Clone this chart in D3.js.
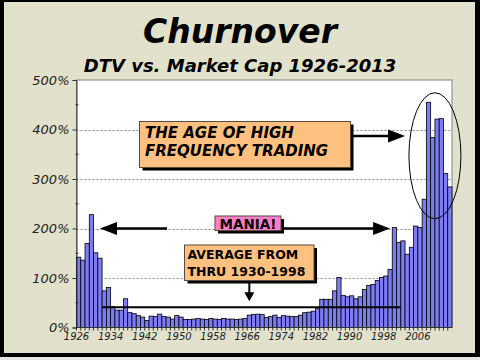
<!DOCTYPE html>
<html>
<head>
<meta charset="utf-8">
<script src="https://cdn.jsdelivr.net/npm/d3@7"></script>
<style>
  body { margin: 0; background: #fff; }
  svg { display: block; }
</style>
</head>
<body>
<div id="chart"></div>
<script>
// Churnover: dollar trading volume as a % of market cap, 1926-2013
var years = d3.range(1926, 2014);
var churn = [
  142, 136, 170, 228, 151, 140, 74, 81, 42, 35,   // 1926-1935
  35, 58, 30, 28, 24, 21, 14, 23, 22, 27,         // 1936-1945
  22, 21, 17, 24, 21, 16, 16, 17, 18, 17,         // 1946-1955
  16, 18, 17, 16, 18, 17, 17, 16, 17, 18,         // 1956-1965
  25, 26, 27, 26, 20, 22, 25, 20, 24, 23,         // 1966-1975
  22, 22, 25, 30, 31, 33, 38, 57, 57, 57,         // 1976-1985
  74, 101, 65, 62, 64, 58, 62, 77, 85, 87,        // 1986-1995
  95, 101, 104, 117, 202, 172, 175, 148, 162, 205,// 1996-2005
  202, 259, 455, 384, 421, 422, 311, 284          // 2006-2013
];
var tickYears = [1926, 1934, 1942, 1950, 1958, 1966, 1974, 1982, 1990, 1998, 2006];
var yTicks = [0, 100, 200, 300, 400, 500];
var avgValue = 41;
var hftLines = ["THE AGE OF HIGH", "FREQUENCY TRADING"];
var avgLines = ["AVERAGE FROM", "THRU 1930-1998"];

var W = 480, H = 360;
// plot area edges (note: "top" is taken by window.top)
var plotL = 76.5, plotR = 452, plotT = 80, plotB = 327.5;

var svg = d3.select("#chart").append("svg")
    .attr("width", W)
    .attr("height", H);

// dotted beige background
var defs = svg.append("defs");
var pat = defs.append("pattern")
    .attr("id", "dots")
    .attr("width", 4).attr("height", 4)
    .attr("patternUnits", "userSpaceOnUse");
pat.append("rect").attr("width", 4).attr("height", 4).attr("fill", "#e1e1cb");
pat.append("rect").attr("x", 1).attr("y", 1).attr("width", 1).attr("height", 1)
    .attr("fill", "#ececdc");

svg.append("rect").attr("width", W).attr("height", H).attr("fill", "#e4e4e4");
svg.append("rect").attr("width", W).attr("height", 357).attr("fill", "#000");
svg.append("rect").attr("x", 4).attr("y", 2).attr("width", 471).attr("height", 351)
    .attr("fill", "url(#dots)");

// titles
svg.append("text")
    .attr("x", 240).attr("y", 43)
    .attr("text-anchor", "middle")
    .style("font-family", "DejaVu Sans")
    .style("font-weight", "bold")
    .style("font-style", "italic")
    .style("font-size", "33px")
    .text("Churnover");

svg.append("text")
    .attr("x", 240).attr("y", 71.5)
    .attr("text-anchor", "middle")
    .style("font-family", "DejaVu Sans")
    .style("font-weight", "bold")
    .style("font-style", "italic")
    .style("font-size", "18px")
    .text("DTV vs. Market Cap 1926-2013");

// scales
var x = d3.scaleBand()
    .domain(years)
    .range([plotL, plotR])
    .padding(0);

var y = d3.scaleLinear()
    .domain([0, 500])
    .range([plotB, plotT]);

// plot area
svg.append("rect")
    .attr("x", plotL).attr("y", plotT)
    .attr("width", plotR - plotL).attr("height", plotB - plotT)
    .attr("fill", "#fff")
    .attr("stroke", "#808080")
    .attr("stroke-width", 1);

// gridlines
svg.append("g").selectAll("line")
    .data([100, 200, 300, 400])
    .enter().append("line")
    .attr("x1", plotL).attr("x2", plotR)
    .attr("y1", function(d) { return Math.round(y(d)) + 0.5; })
    .attr("y2", function(d) { return Math.round(y(d)) + 0.5; })
    .attr("stroke", "#888")
    .attr("stroke-dasharray", "2,2");

// bars
svg.append("g").selectAll("rect")
    .data(churn)
    .enter().append("rect")
    .attr("x", function(d, i) { return x(years[i]); })
    .attr("y", function(d) { return y(d); })
    .attr("width", x.bandwidth())
    .attr("height", function(d) { return y(0) - y(d); })
    .attr("fill", "#7c7cf4")
    .attr("stroke", "#000")
    .attr("stroke-width", 0.8);

// y axis
var yAxis = d3.axisLeft(y)
    .tickValues(yTicks)
    .tickSize(4)
    .tickFormat(function(d) { return d + "%"; });

var gy = svg.append("g")
    .attr("transform", "translate(" + plotL + ",0)")
    .call(yAxis);
gy.select(".domain").attr("stroke", "#333");
gy.selectAll(".tick line").attr("stroke", "#333");
gy.selectAll(".tick text")
    .attr("x", -7)
    .attr("fill", "#222")
    .style("font-family", "DejaVu Sans")
    .style("font-style", "italic")
    .style("font-size", "13px");

// minor y ticks
svg.append("g").selectAll("line")
    .data([50, 150, 250, 350, 450])
    .enter().append("line")
    .attr("x1", plotL - 1).attr("x2", plotL + 2)
    .attr("y1", function(d) { return y(d); })
    .attr("y2", function(d) { return y(d); })
    .attr("stroke", "#333");

// x axis: ticks at category boundaries, labels every 8 years
svg.append("line")
    .attr("x1", plotL).attr("x2", plotR)
    .attr("y1", plotB).attr("y2", plotB)
    .attr("stroke", "#333");

svg.append("g").selectAll("line")
    .data(years)
    .enter().append("line")
    .attr("x1", function(d) { return x(d); })
    .attr("x2", function(d) { return x(d); })
    .attr("y1", plotB).attr("y2", plotB + 3)
    .attr("stroke", "#333");

svg.append("g").selectAll("text")
    .data(tickYears)
    .enter().append("text")
    .attr("x", function(d) { return x(d); })
    .attr("y", 339.5)
    .attr("text-anchor", "middle")
    .attr("fill", "#222")
    .style("font-family", "DejaVu Sans")
    .style("font-style", "italic")
    .style("font-size", "10px")
    .text(function(d) { return d; });

// arrows helper
function arrowHead(g, tipX, tipY, dir, len, half) {
  var pts;
  if (dir === "right") pts = [[tipX, tipY], [tipX - len, tipY - half], [tipX - len, tipY + half]];
  if (dir === "left") pts = [[tipX, tipY], [tipX + len, tipY - half], [tipX + len, tipY + half]];
  if (dir === "down") pts = [[tipX, tipY], [tipX - half, tipY - len], [tipX + half, tipY - len]];
  g.append("polygon")
    .attr("points", pts.map(function(p) { return p.join(","); }).join(" "))
    .attr("fill", "#000");
}

function box(g, bx, by, bw, bh, fill) {
  g.append("rect")
    .attr("x", bx + 3).attr("y", by + 3)
    .attr("width", bw).attr("height", bh)
    .attr("fill", "#000");
  g.append("rect")
    .attr("x", bx).attr("y", by)
    .attr("width", bw).attr("height", bh)
    .attr("fill", fill)
    .attr("stroke", "#5a4a3a")
    .attr("stroke-width", 1);
}

var ann = svg.append("g");

// average line
ann.append("line")
    .attr("x1", x(1932)).attr("x2", x(2002))
    .attr("y1", y(avgValue)).attr("y2", y(avgValue))
    .attr("stroke", "#000")
    .attr("stroke-width", 2);

// mania arrow (double headed on the 200% line)
var maniaY = y(200);
var mLeft = x(1931) + x.bandwidth() / 2;
var mRight = x(1999) + x.bandwidth() / 2;
ann.append("line")
    .attr("x1", mLeft + 10).attr("x2", 167)
    .attr("y1", maniaY).attr("y2", maniaY)
    .attr("stroke", "#000").attr("stroke-width", 2.5);
ann.append("line")
    .attr("x1", 282).attr("x2", mRight - 10)
    .attr("y1", maniaY).attr("y2", maniaY)
    .attr("stroke", "#000").attr("stroke-width", 2.5);
arrowHead(ann, mLeft, maniaY, "left", 17, 6.5);
arrowHead(ann, mRight, maniaY, "right", 17, 6.5);

box(ann, 215, maniaY - 12.5, 66, 14.5, "#ff80c8");
ann.append("text")
    .attr("x", 248).attr("y", maniaY + 0.5)
    .attr("text-anchor", "middle")
    .style("font-family", "DejaVu Sans")
    .style("font-weight", "bold")
    .style("font-size", "13.5px")
    .text("MANIA!");

// average box + down arrow
var avgX = x(1966) + x.bandwidth() / 2;
ann.append("line")
    .attr("x1", avgX).attr("x2", avgX)
    .attr("y1", 281).attr("y2", y(avgValue) - 13)
    .attr("stroke", "#000").attr("stroke-width", 2);
arrowHead(ann, avgX, y(avgValue) - 6, "down", 9, 5);

box(ann, 184.5, 245, 129.5, 35.5, "#ffc080");
ann.selectAll(".avgt")
    .data(avgLines)
    .enter().append("text")
    .attr("x", 187.5)
    .attr("y", function(d, i) { return 258.5 + i * 17; })
    .style("font-family", "DejaVu Sans")
    .style("font-weight", "bold")
    .style("font-size", "12.5px")
    .text(function(d) { return d; });

// HFT box + arrow + ellipse
var hftY = y(387);
ann.append("line")
    .attr("x1", 351).attr("x2", x(2003) - 12)
    .attr("y1", hftY).attr("y2", hftY)
    .attr("stroke", "#000").attr("stroke-width", 2.5);
arrowHead(ann, x(2003), hftY, "right", 17, 6.5);

box(ann, 139.5, 121.5, 211, 46, "#ffc080");
ann.selectAll(".hftt")
    .data(hftLines)
    .enter().append("text")
    .attr("x", 145)
    .attr("y", function(d, i) { return 137.5 + i * 18; })
    .style("font-family", "DejaVu Sans")
    .style("font-weight", "bold")
    .style("font-style", "italic")
    .style("font-size", "15px")
    .text(function(d) { return d; });

ann.append("ellipse")
    .attr("cx", x(2010))
    .attr("cy", y(347))
    .attr("rx", 26)
    .attr("ry", 63)
    .attr("fill", "none")
    .attr("stroke", "#000")
    .attr("stroke-width", 1);
</script>
</body>
</html>
